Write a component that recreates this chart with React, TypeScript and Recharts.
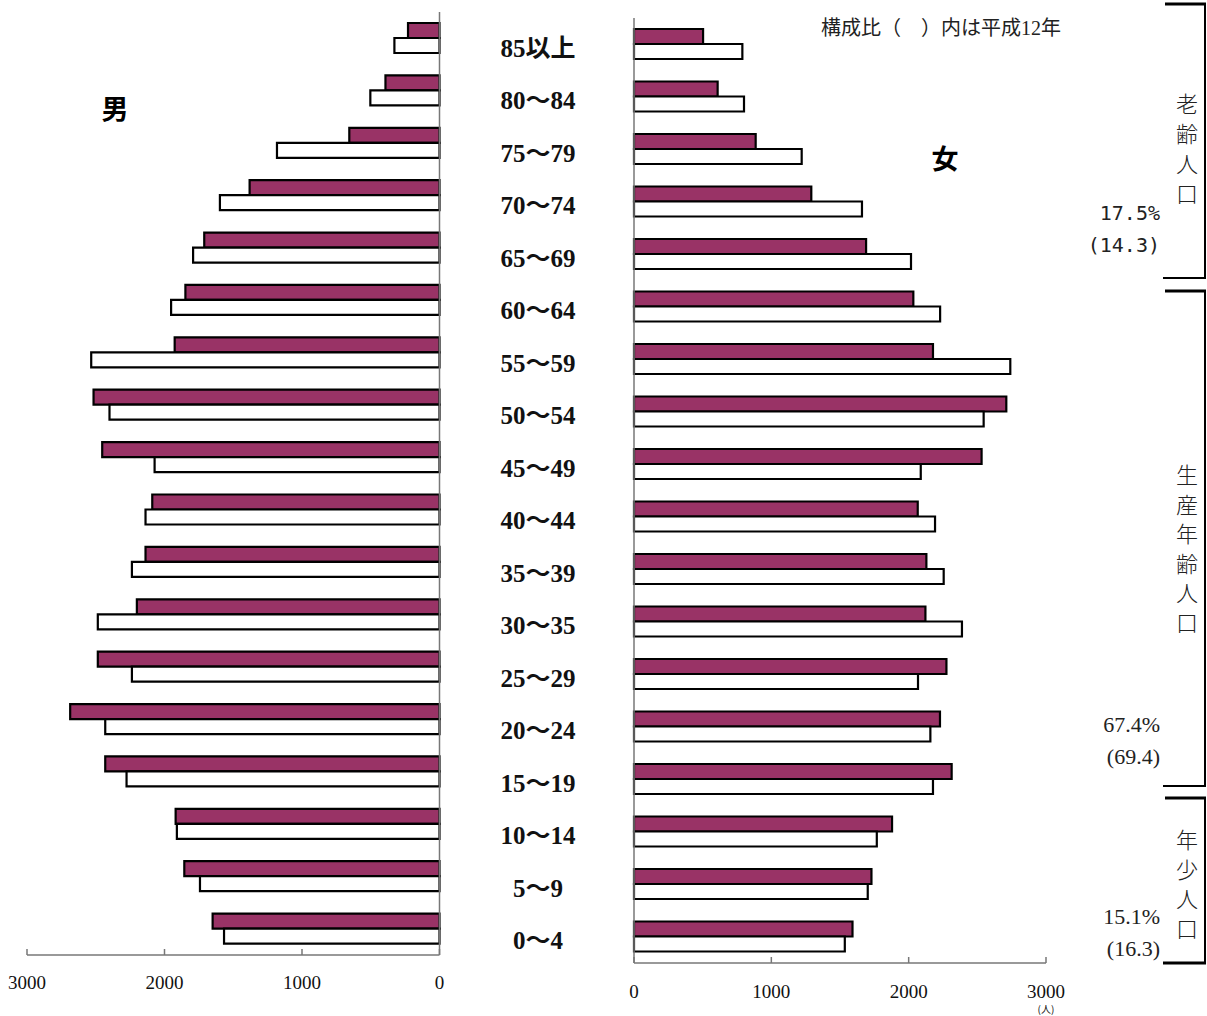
import React from 'react';
import { BarChart, Bar, XAxis, YAxis } from 'recharts';

// ---- data ----
const ageGroups = ['85以上', '80～84', '75～79', '70～74', '65～69', '60～64', '55～59', '50～54', '45～49', '40～44', '35～39', '30～35', '25～29', '20～24', '15～19', '10～14', '5～9', '0～4'];
const maleCurrent = [229, 393, 656, 1381, 1711, 1848, 1926, 2516, 2453, 2089, 2138, 2201, 2485, 2686, 2431, 1919, 1856, 1650];
const maleH12 = [328, 503, 1182, 1597, 1792, 1952, 2533, 2400, 2072, 2138, 2237, 2485, 2237, 2431, 2276, 1910, 1742, 1567];
const femaleCurrent = [503, 609, 886, 1291, 1690, 2034, 2177, 2711, 2531, 2066, 2129, 2122, 2275, 2228, 2313, 1879, 1729, 1591];
const femaleH12 = [789, 801, 1221, 1660, 2017, 2229, 2740, 2546, 2088, 2192, 2255, 2388, 2068, 2158, 2177, 1768, 1702, 1535];
const valueTicks = [0, 1000, 2000, 3000];
const unitLabel = '(人)';

const maleData = ageGroups.map((age, i) => ({ age, current: maleCurrent[i], h12: maleH12[i] }));
const femaleData = ageGroups.map((age, i) => ({ age, current: femaleCurrent[i], h12: femaleH12[i] }));
const bandTicks = [...ageGroups.map((_, i) => i), ageGroups.length];

const MAROON = '#993366';
const AXIS = '#777';
const SERIF = "'Liberation Serif', 'Noto Sans CJK JP', serif";
const CJK = "'Noto Sans CJK JP', sans-serif";

const LeftXTick = (props: any) => {
  const { x, y, payload } = props;
  return (
    <text x={x} y={y} textAnchor="middle" dominantBaseline="central" fontFamily={SERIF} fontSize={19} fill="#111">
      {payload.value}
    </text>
  );
};

const RightXTick = (props: any) => {
  const { x, y, payload } = props;
  const last = payload.value === valueTicks[valueTicks.length - 1];
  return (
    <g>
      <text x={x} y={y} textAnchor="middle" dominantBaseline="central" fontFamily={SERIF} fontSize={19} fill="#111">
        {payload.value}
      </text>
      {last && (
        <text x={x} y={y + 17} textAnchor="middle" dominantBaseline="central" fontFamily={CJK} fontSize={10} fill="#111">
          {unitLabel}
        </text>
      )}
    </g>
  );
};

const AgeTick = (props: any) => {
  const { x, y, payload } = props;
  return (
    <text x={x - 96} y={y + 4} textAnchor="middle" dominantBaseline="central" fontFamily={SERIF} fontWeight={700} fontSize={25} fill="#111">
      {payload.value}
    </text>
  );
};

export default function App() {
  return (
    <div style={{ position: 'absolute', left: 0, top: 0, width: 1207, height: 1016, background: '#fff', overflow: 'hidden' }}>
      {/* male */}
      <div style={{ position: 'absolute', left: 0, top: 0 }}>
        <BarChart width={460} height={1016} data={maleData} layout="vertical" barGap={0} barSize={15}
          margin={{ top: 12, right: 20.5, left: 27, bottom: 21 }}>
          <XAxis type="number" domain={[0, 3000]} ticks={valueTicks} reversed height={40}
            axisLine={{ stroke: AXIS, strokeWidth: 1.5 }} tickLine={{ stroke: AXIS, strokeWidth: 1.5 }}
            tickSize={-6} tickMargin={33} tick={<LeftXTick />} interval={0} />
          <YAxis yAxisId="cat" type="category" dataKey="age" orientation="right" hide />
          <YAxis yAxisId="grid" type="number" domain={[0, ageGroups.length]} ticks={bandTicks} interval={0}
            orientation="right" mirror width={6} tick={false} tickSize={6}
            axisLine={{ stroke: AXIS, strokeWidth: 1.5 }} tickLine={{ stroke: AXIS, strokeWidth: 1.5 }} />
          <Bar yAxisId="cat" dataKey="current" fill={MAROON} stroke="#000" strokeWidth={2.2} isAnimationActive={false} />
          <Bar yAxisId="cat" dataKey="h12" fill="#fff" stroke="#000" strokeWidth={2.2} isAnimationActive={false} />
        </BarChart>
      </div>
      {/* female */}
      <div style={{ position: 'absolute', left: 440, top: 0 }}>
        <BarChart width={650} height={1016} data={femaleData} layout="vertical" barGap={0} barSize={15}
          margin={{ top: 18, right: 44, left: 58, bottom: 13 }}>
          <XAxis type="number" domain={[0, 3000]} ticks={valueTicks} height={40}
            axisLine={{ stroke: AXIS, strokeWidth: 1.5 }} tickLine={{ stroke: AXIS, strokeWidth: 1.5 }}
            tickSize={-6} tickMargin={34} tick={<RightXTick />} interval={0} />
          <YAxis yAxisId="cat" type="category" dataKey="age" orientation="left" width={136}
            axisLine={false} tickLine={false} tickSize={0} tickMargin={0} tick={<AgeTick />} interval={0} />
          <YAxis yAxisId="grid" type="number" domain={[0, ageGroups.length]} ticks={bandTicks} interval={0}
            orientation="left" mirror width={6} tick={false} tickSize={6}
            axisLine={{ stroke: AXIS, strokeWidth: 1.5 }} tickLine={{ stroke: AXIS, strokeWidth: 1.5 }} />
          <Bar yAxisId="cat" dataKey="current" fill={MAROON} stroke="#000" strokeWidth={2.2} isAnimationActive={false} />
          <Bar yAxisId="cat" dataKey="h12" fill="#fff" stroke="#000" strokeWidth={2.2} isAnimationActive={false} />
        </BarChart>
      </div>
      {/* annotations */}
      <svg width={1207} height={1016} style={{ position: 'absolute', left: 0, top: 0, pointerEvents: 'none' }}>
        <text x={115} y={107} textAnchor="middle" dominantBaseline="central" fontFamily={CJK} fontWeight={700} fontSize={27} fill="#000">男</text>
        <text x={945} y={157} textAnchor="middle" dominantBaseline="central" fontFamily={CJK} fontWeight={700} fontSize={27} fill="#000">女</text>
        <text x={821} y={28} dominantBaseline="central" fontFamily={SERIF} fontSize={20} fill="#222">構成比（　）内は平成12年</text>

        <text x={1160} y={213} textAnchor="end" dominantBaseline="central" fontFamily="'DejaVu Sans Mono', monospace" fontSize={20} fill="#222">17.5%</text>
        <text x={1160} y={245} textAnchor="end" dominantBaseline="central" fontFamily="'DejaVu Sans Mono', monospace" fontSize={20} fill="#222">(14.3)</text>
        <text x={1160} y={724} textAnchor="end" dominantBaseline="central" fontFamily={SERIF} fontSize={22} fill="#222">67.4%</text>
        <text x={1160} y={756} textAnchor="end" dominantBaseline="central" fontFamily={SERIF} fontSize={22} fill="#222">(69.4)</text>
        <text x={1160} y={916} textAnchor="end" dominantBaseline="central" fontFamily={SERIF} fontSize={22} fill="#222">15.1%</text>
        <text x={1160} y={948} textAnchor="end" dominantBaseline="central" fontFamily={SERIF} fontSize={22} fill="#222">(16.3)</text>

        {['老', '齢', '人', '口'].map((c, i) => (
          <text key={'a' + i} x={1187} y={102 + i * 30} textAnchor="middle" dominantBaseline="central" fontFamily={CJK} fontWeight={300} fontSize={22} fill="#222">{c}</text>
        ))}
        {['生', '産', '年', '齢', '人', '口'].map((c, i) => (
          <text key={'b' + i} x={1187} y={473 + i * 29.5} textAnchor="middle" dominantBaseline="central" fontFamily={CJK} fontWeight={300} fontSize={22} fill="#222">{c}</text>
        ))}
        {['年', '少', '人', '口'].map((c, i) => (
          <text key={'c' + i} x={1187} y={838 + i * 29.7} textAnchor="middle" dominantBaseline="central" fontFamily={CJK} fontWeight={300} fontSize={22} fill="#222">{c}</text>
        ))}

        <g stroke="#000" fill="none">
          <line x1={1165} y1={4} x2={1206} y2={4} strokeWidth={3} />
          <line x1={1205} y1={4} x2={1205} y2={279} strokeWidth={2} />
          <line x1={1163} y1={278} x2={1206} y2={278} strokeWidth={2} />

          <line x1={1165} y1={291} x2={1206} y2={291} strokeWidth={3} />
          <line x1={1205} y1={291} x2={1205} y2={787} strokeWidth={2} />
          <line x1={1163} y1={786} x2={1206} y2={786} strokeWidth={2} />

          <line x1={1165} y1={798} x2={1206} y2={798} strokeWidth={3} />
          <line x1={1205} y1={798} x2={1205} y2={964} strokeWidth={2} />
          <line x1={1163} y1={963} x2={1206} y2={963} strokeWidth={3} />
        </g>
      </svg>
    </div>
  );
}
